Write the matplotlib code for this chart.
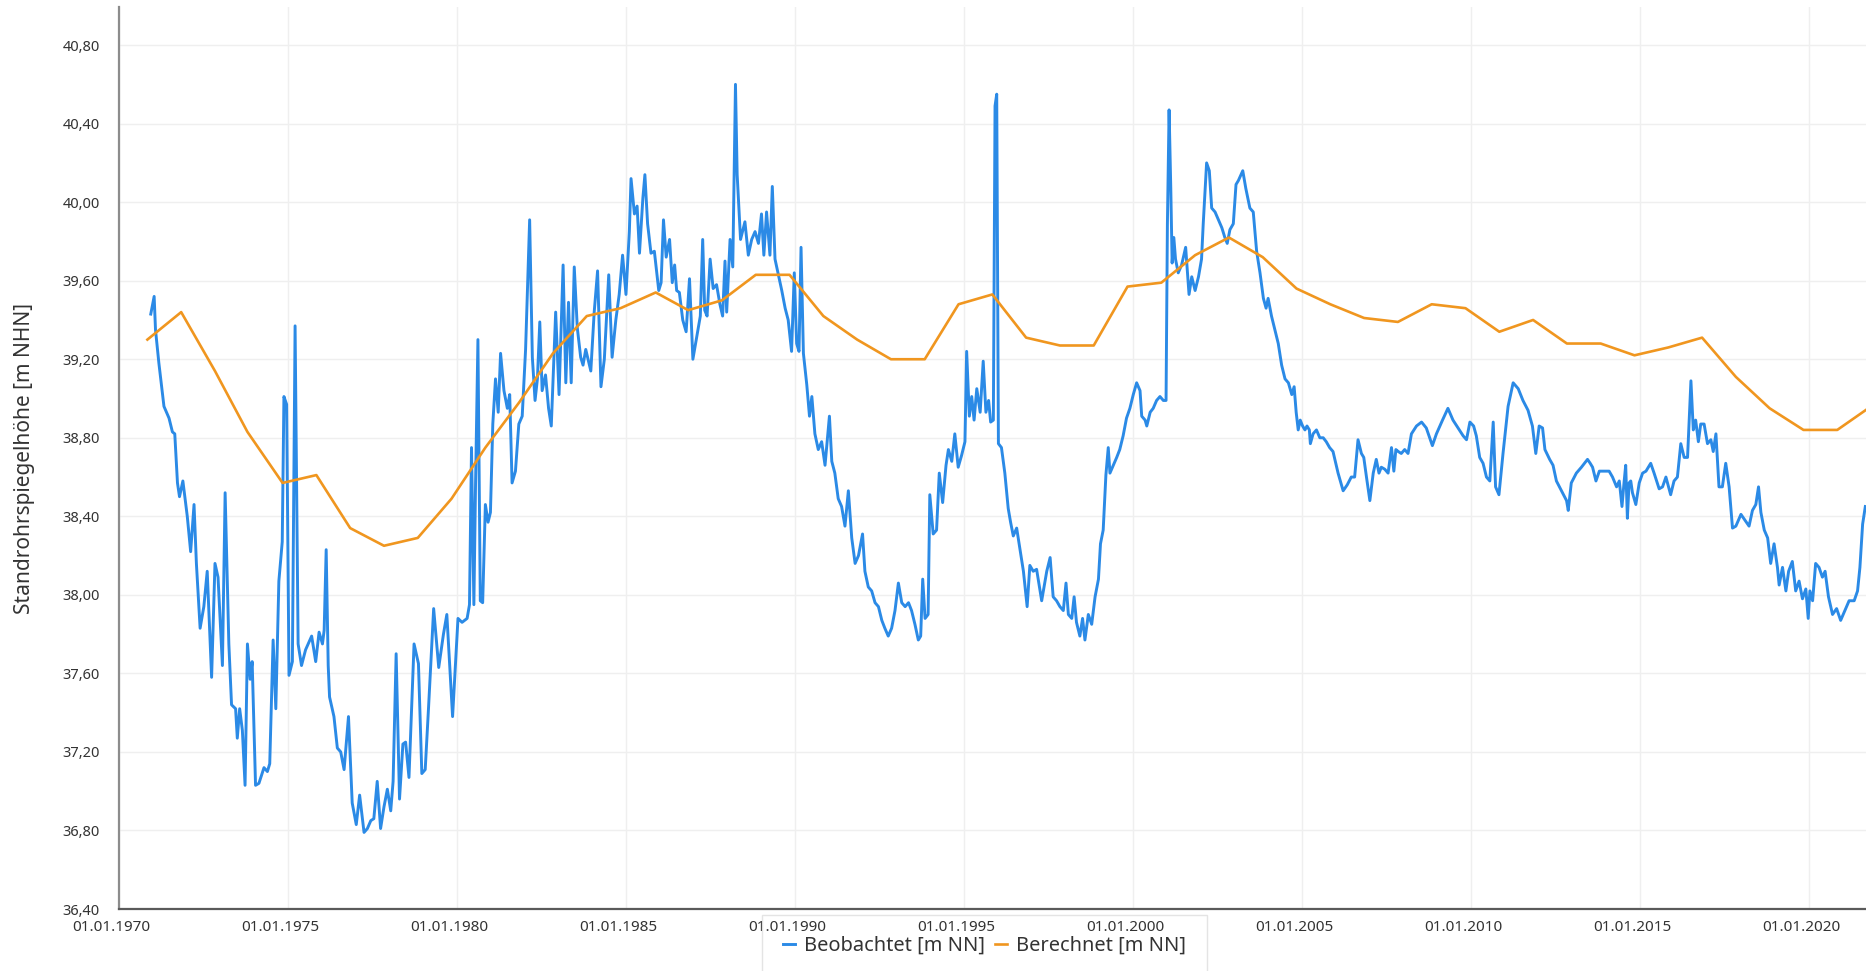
import matplotlib
matplotlib.use("Agg")
import matplotlib.pyplot as plt
from matplotlib.transforms import ScaledTranslation

plt.rcParams['font.family'] = ['Noto Sans', 'DejaVu Sans']

# ---------------- data ----------------
obs_years = [
    1970.94, 1971.04, 1971.08, 1971.18, 1971.33, 1971.48, 1971.58, 1971.65, 1971.73, 1971.79,
    1971.89, 1972.02, 1972.12, 1972.22, 1972.29, 1972.40, 1972.51, 1972.61, 1972.74, 1972.84,
    1972.93, 1973.06, 1973.14, 1973.25, 1973.33, 1973.45, 1973.50, 1973.57, 1973.65, 1973.73,
    1973.80, 1973.88, 1973.94, 1974.04, 1974.14, 1974.29, 1974.39, 1974.46, 1974.56, 1974.64,
    1974.73, 1974.83, 1974.88, 1974.96, 1975.03, 1975.13, 1975.21, 1975.30, 1975.40, 1975.52,
    1975.70, 1975.82, 1975.92, 1976.02, 1976.07, 1976.13, 1976.19, 1976.23, 1976.36, 1976.46,
    1976.56, 1976.66, 1976.79, 1976.90, 1977.02, 1977.12, 1977.25, 1977.35, 1977.45, 1977.54,
    1977.64, 1977.74, 1977.84, 1977.94, 1978.04, 1978.11, 1978.20, 1978.30, 1978.40, 1978.48,
    1978.58, 1978.73, 1978.86, 1978.96, 1979.06, 1979.16, 1979.31, 1979.46, 1979.60, 1979.70,
    1979.87, 1980.03, 1980.15, 1980.30, 1980.37, 1980.43, 1980.50, 1980.55, 1980.62, 1980.69,
    1980.76, 1980.84, 1980.92, 1980.99, 1981.06, 1981.14, 1981.22, 1981.29, 1981.39, 1981.49,
    1981.56, 1981.63, 1981.73, 1981.83, 1981.93, 1982.03, 1982.15, 1982.23, 1982.31, 1982.38,
    1982.45, 1982.52, 1982.62, 1982.71, 1982.79, 1982.87, 1982.92, 1983.02, 1983.14, 1983.22,
    1983.30, 1983.38, 1983.47, 1983.56, 1983.66, 1983.73, 1983.81, 1983.96, 1984.06, 1984.16,
    1984.26, 1984.36, 1984.49, 1984.59, 1984.70, 1984.80, 1984.90, 1985.00, 1985.10, 1985.15,
    1985.25, 1985.33, 1985.40, 1985.50, 1985.56, 1985.64, 1985.74, 1985.84, 1985.97, 1986.04,
    1986.11, 1986.19, 1986.29, 1986.37, 1986.44, 1986.50, 1986.58, 1986.68, 1986.78, 1986.88,
    1986.98, 1987.08, 1987.20, 1987.27, 1987.33, 1987.40, 1987.49, 1987.58, 1987.68, 1987.78,
    1987.86, 1987.93, 1987.98, 1988.08, 1988.16, 1988.24, 1988.29, 1988.39, 1988.52, 1988.62,
    1988.72, 1988.82, 1988.92, 1989.01, 1989.08, 1989.16, 1989.26, 1989.33, 1989.41, 1989.51,
    1989.61, 1989.71, 1989.80, 1989.90, 1989.98, 1990.05, 1990.12, 1990.18, 1990.25, 1990.35,
    1990.43, 1990.50, 1990.59, 1990.69, 1990.79, 1990.89, 1991.02, 1991.09, 1991.18, 1991.28,
    1991.38, 1991.48, 1991.58, 1991.68, 1991.78, 1991.88, 1992.00, 1992.07, 1992.17, 1992.27,
    1992.37, 1992.47, 1992.57, 1992.66, 1992.76, 1992.86, 1992.96, 1993.06, 1993.16, 1993.26,
    1993.36, 1993.45, 1993.55, 1993.65, 1993.72, 1993.78, 1993.85, 1993.94, 1993.99, 1994.09,
    1994.19, 1994.27, 1994.37, 1994.47, 1994.54, 1994.64, 1994.73, 1994.83, 1994.93, 1995.03,
    1995.08, 1995.16, 1995.23, 1995.30, 1995.38, 1995.48, 1995.57, 1995.65, 1995.73, 1995.79,
    1995.87, 1995.92, 1995.97, 1996.02, 1996.11, 1996.21, 1996.31, 1996.38, 1996.46, 1996.56,
    1996.66, 1996.76, 1996.87, 1996.95, 1997.05, 1997.15, 1997.30, 1997.45, 1997.55, 1997.64,
    1997.74, 1997.84, 1997.94, 1998.02, 1998.09, 1998.19, 1998.26, 1998.33, 1998.43, 1998.51,
    1998.58, 1998.68, 1998.78, 1998.88, 1998.98, 1999.04, 1999.12, 1999.20, 1999.27, 1999.32,
    1999.42, 1999.52, 1999.61, 1999.71, 1999.81, 1999.91, 2000.01, 2000.11, 2000.21, 2000.26,
    2000.36, 2000.41, 2000.51, 2000.60, 2000.70, 2000.80, 2000.90, 2000.98, 2001.02, 2001.07,
    2001.12, 2001.16, 2001.21, 2001.26, 2001.34, 2001.44, 2001.56, 2001.66, 2001.74, 2001.84,
    2001.94, 2002.03, 2002.08, 2002.18, 2002.26, 2002.33, 2002.43, 2002.53, 2002.63, 2002.72,
    2002.79, 2002.87, 2002.97, 2003.05, 2003.12, 2003.25, 2003.34, 2003.46, 2003.56, 2003.66,
    2003.76, 2003.86, 2003.94, 2004.00, 2004.10, 2004.20, 2004.30, 2004.40, 2004.50, 2004.60,
    2004.70, 2004.77, 2004.83, 2004.89, 2004.95, 2005.02, 2005.09, 2005.15, 2005.22, 2005.25,
    2005.33, 2005.43, 2005.53, 2005.63, 2005.72, 2005.82, 2005.92, 2006.07, 2006.22, 2006.34,
    2006.46, 2006.56, 2006.66, 2006.76, 2006.83, 2006.91, 2007.01, 2007.11, 2007.20, 2007.28,
    2007.35, 2007.45, 2007.55, 2007.65, 2007.72, 2007.78, 2007.85, 2007.94, 2008.04, 2008.14,
    2008.24, 2008.39, 2008.54, 2008.68, 2008.86, 2008.98, 2009.16, 2009.32, 2009.47, 2009.62,
    2009.77, 2009.87, 2009.97, 2010.08, 2010.16, 2010.26, 2010.36, 2010.46, 2010.56, 2010.66,
    2010.73, 2010.83, 2010.95, 2011.10, 2011.25, 2011.40, 2011.54, 2011.69, 2011.82, 2011.92,
    2012.02, 2012.12, 2012.19, 2012.33, 2012.43, 2012.53, 2012.68, 2012.83, 2012.88, 2012.97,
    2013.12, 2013.27, 2013.45, 2013.53, 2013.60, 2013.70, 2013.80, 2013.94, 2014.09, 2014.19,
    2014.31, 2014.39, 2014.47, 2014.53, 2014.58, 2014.63, 2014.68, 2014.73, 2014.78, 2014.88,
    2014.98, 2015.08, 2015.18, 2015.32, 2015.42, 2015.57, 2015.67, 2015.77, 2015.91, 2016.01,
    2016.11, 2016.21, 2016.31, 2016.41, 2016.51, 2016.58, 2016.65, 2016.73, 2016.80, 2016.90,
    2017.00, 2017.10, 2017.17, 2017.25, 2017.34, 2017.44, 2017.54, 2017.64, 2017.74, 2017.84,
    2017.99, 2018.11, 2018.23, 2018.33, 2018.43, 2018.51, 2018.58, 2018.68, 2018.78, 2018.87,
    2018.97, 2019.07, 2019.12, 2019.22, 2019.32, 2019.40, 2019.51, 2019.61, 2019.71, 2019.81,
    2019.91, 2019.98, 2020.03, 2020.11, 2020.20, 2020.30, 2020.40, 2020.48, 2020.58, 2020.70,
    2020.82, 2020.94, 2021.04, 2021.19, 2021.34, 2021.44, 2021.51, 2021.59, 2021.67,
]
obs_values = [
    39.43, 39.52, 39.35, 39.18, 38.96, 38.90, 38.83, 38.82, 38.57, 38.50,
    38.58, 38.40, 38.22, 38.46, 38.16, 37.83, 37.94, 38.12, 37.58, 38.16,
    38.09, 37.64, 38.52, 37.75, 37.44, 37.42, 37.27, 37.42, 37.31, 37.03,
    37.75, 37.57, 37.66, 37.03, 37.04, 37.12, 37.10, 37.14, 37.77, 37.42,
    38.07, 38.27, 39.01, 38.97, 37.59, 37.66, 39.37, 37.75, 37.64, 37.72,
    37.79, 37.66, 37.81, 37.75, 37.82, 38.23, 37.64, 37.48, 37.38, 37.22,
    37.20, 37.11, 37.38, 36.94, 36.83, 36.98, 36.79, 36.81, 36.85, 36.86,
    37.05, 36.81, 36.92, 37.01, 36.90, 37.05, 37.70, 36.96, 37.24, 37.25,
    37.07, 37.75, 37.65, 37.09, 37.11, 37.43, 37.93, 37.63, 37.80, 37.90,
    37.38, 37.88, 37.86, 37.88, 37.95, 38.75, 37.95, 38.57, 39.30, 37.97,
    37.96, 38.46, 38.37, 38.42, 38.87, 39.10, 38.93, 39.23, 39.04, 38.95,
    39.02, 38.57, 38.63, 38.87, 38.91, 39.25, 39.91, 39.21, 38.99, 39.10,
    39.39, 39.04, 39.12, 38.95, 38.86, 39.21, 39.44, 39.02, 39.68, 39.08,
    39.49, 39.08, 39.67, 39.36, 39.21, 39.17, 39.25, 39.14, 39.44, 39.65,
    39.06, 39.20, 39.63, 39.21, 39.40, 39.53, 39.73, 39.53, 39.85, 40.12,
    39.94, 39.98, 39.74, 40.02, 40.14, 39.89, 39.74, 39.75, 39.55, 39.59,
    39.91, 39.72, 39.81, 39.59, 39.68, 39.55, 39.54, 39.40, 39.34, 39.61,
    39.20, 39.30, 39.42, 39.81, 39.45, 39.42, 39.71, 39.56, 39.58, 39.48,
    39.42, 39.70, 39.44, 39.81, 39.67, 40.60, 40.14, 39.81, 39.90, 39.73,
    39.81, 39.85, 39.79, 39.94, 39.73, 39.95, 39.73, 40.08, 39.71, 39.63,
    39.55, 39.46, 39.40, 39.24, 39.64, 39.28, 39.24, 39.77, 39.23, 39.07,
    38.91, 39.01, 38.82, 38.74, 38.78, 38.66, 38.91, 38.68, 38.62, 38.49,
    38.45, 38.35, 38.53, 38.29, 38.16, 38.20, 38.31, 38.12, 38.04, 38.02,
    37.96, 37.94, 37.87, 37.83, 37.79, 37.83, 37.92, 38.06, 37.96, 37.94,
    37.96, 37.92, 37.85, 37.77, 37.79, 38.08, 37.88, 37.90, 38.51, 38.31,
    38.33, 38.62, 38.47, 38.66, 38.74, 38.68, 38.82, 38.65, 38.71, 38.78,
    39.24, 38.91, 39.01, 38.89, 39.05, 38.93, 39.19, 38.93, 38.99, 38.88,
    38.89, 40.49, 40.55, 38.77, 38.75, 38.62, 38.44, 38.37, 38.30, 38.34,
    38.23, 38.12, 37.94, 38.15, 38.12, 38.13, 37.97, 38.12, 38.19, 37.99,
    37.97, 37.94, 37.92, 38.06, 37.90, 37.88, 37.99, 37.86, 37.79, 37.88,
    37.77, 37.90, 37.85, 37.99, 38.08, 38.26, 38.33, 38.61, 38.75, 38.62,
    38.66, 38.70, 38.74, 38.81, 38.90, 38.95, 39.02, 39.08, 39.04, 38.91,
    38.89, 38.86, 38.93, 38.95, 38.99, 39.01, 38.99, 38.99, 39.89, 40.47,
    40.07, 39.69, 39.82, 39.71, 39.64, 39.68, 39.77, 39.53, 39.62, 39.55,
    39.62, 39.71, 39.89, 40.20, 40.16, 39.97, 39.95, 39.91, 39.87, 39.82,
    39.79, 39.86, 39.89, 40.09, 40.11, 40.16, 40.07, 39.97, 39.95, 39.75,
    39.64, 39.51, 39.46, 39.51, 39.42, 39.35, 39.28, 39.17, 39.10, 39.08,
    39.02, 39.06, 38.93, 38.84, 38.89, 38.86, 38.84, 38.86, 38.84, 38.77,
    38.82, 38.84, 38.80, 38.80, 38.78, 38.75, 38.73, 38.62, 38.53, 38.56,
    38.60, 38.60, 38.79, 38.72, 38.70, 38.60, 38.48, 38.62, 38.69, 38.62,
    38.65, 38.64, 38.62, 38.75, 38.63, 38.74, 38.73, 38.72, 38.74, 38.72,
    38.82, 38.86, 38.88, 38.85, 38.76, 38.82, 38.89, 38.95, 38.89, 38.85,
    38.81, 38.79, 38.88, 38.86, 38.81, 38.70, 38.67, 38.60, 38.58, 38.88,
    38.55, 38.51, 38.72, 38.96, 39.08, 39.05, 38.99, 38.94, 38.86, 38.72,
    38.86, 38.85, 38.74, 38.69, 38.66, 38.58, 38.53, 38.48, 38.43, 38.57,
    38.62, 38.65, 38.69, 38.67, 38.65, 38.58, 38.63, 38.63, 38.63, 38.60,
    38.55, 38.58, 38.45, 38.57, 38.66, 38.39, 38.57, 38.58, 38.52, 38.46,
    38.57, 38.62, 38.63, 38.67, 38.62, 38.54, 38.55, 38.60, 38.51, 38.58,
    38.60, 38.77, 38.70, 38.70, 39.09, 38.84, 38.89, 38.78, 38.87, 38.87,
    38.77, 38.79, 38.73, 38.82, 38.55, 38.55, 38.67, 38.55, 38.34, 38.35,
    38.41, 38.38, 38.35, 38.43, 38.46, 38.55, 38.42, 38.33, 38.29, 38.16,
    38.26, 38.14, 38.05, 38.14, 38.02, 38.12, 38.17, 38.02, 38.07, 37.98,
    38.03, 37.88, 38.02, 37.97, 38.16, 38.14, 38.09, 38.12, 37.99, 37.90,
    37.93, 37.87, 37.91, 37.97, 37.97, 38.02, 38.14, 38.36, 38.45,
]

calc_years = [
    1970.84, 1971.84, 1972.84, 1973.80, 1974.84, 1975.84, 1976.84, 1977.84, 1978.84, 1979.84,
    1980.84, 1981.84, 1982.84, 1983.84, 1984.84, 1985.88, 1986.84, 1987.84, 1988.84, 1989.84,
    1990.84, 1991.84, 1992.84, 1993.84, 1994.84, 1995.84, 1996.84, 1997.84, 1998.84, 1999.84,
    2000.84, 2001.84, 2002.84, 2003.84, 2004.84, 2005.84, 2006.84, 2007.84, 2008.84, 2009.84,
    2010.84, 2011.84, 2012.84, 2013.84, 2014.84, 2015.84, 2016.84, 2017.84, 2018.84, 2019.84,
    2020.84, 2021.84,
]
calc_values = [
    39.30, 39.44, 39.14, 38.83, 38.57, 38.61, 38.34, 38.25, 38.29, 38.49,
    38.75, 38.98, 39.23, 39.42, 39.46, 39.54, 39.45, 39.50, 39.63, 39.63,
    39.42, 39.30, 39.20, 39.20, 39.48, 39.53, 39.31, 39.27, 39.27, 39.57,
    39.59, 39.73, 39.82, 39.72, 39.56, 39.48, 39.41, 39.39, 39.48, 39.46,
    39.34, 39.40, 39.28, 39.28, 39.22, 39.26, 39.31, 39.11, 38.95, 38.84,
    38.84, 38.96,
]

xtick_years = [1970, 1975, 1980, 1985, 1990, 1995, 2000, 2005, 2010, 2015, 2020]
xtick_labels = ["01.01.%d" % y for y in xtick_years]
ytick_values = [36.4, 36.8, 37.2, 37.6, 38.0, 38.4, 38.8, 39.2, 39.6, 40.0, 40.4, 40.8]
ytick_labels = [("%.2f" % v).replace(".", ",") for v in ytick_values]

series_names = ["Beobachtet [m NN]", "Berechnet [m NN]"]
y_title = "Standrohrspiegelhöhe [m NHN]"

# ---------------- figure ----------------
W, H, DPI = 1866, 971, 100
fig = plt.figure(figsize=(W / DPI, H / DPI), dpi=DPI)
ax = fig.add_axes([119 / W, 1 - 909 / H, (W - 119) / W, (909 - 7) / H])

blue = "#2b8ae6"
orange = "#f0961f"

ax.plot(obs_years, obs_values, color=blue, lw=2.1, solid_joinstyle="round",
        label=series_names[0], zorder=3)
ax.plot(calc_years, calc_values, color=orange, lw=1.9, solid_joinstyle="round",
        label=series_names[1], zorder=4)

ax.set_xlim(1970, 2021.69)
ax.set_ylim(36.4, 40.994)

ax.set_xticks(xtick_years)
ax.set_xticklabels(xtick_labels)
ax.set_yticks(ytick_values)
ax.set_yticklabels(ytick_labels)

ax.grid(True, color="#efefef", lw=1.0, zorder=0)
ax.set_axisbelow(True)

for s in ["top", "right"]:
    ax.spines[s].set_visible(False)
ax.spines["left"].set_color("#8c8c8c")
ax.spines["left"].set_linewidth(1.6)
ax.spines["bottom"].set_color("#5a5a5a")
ax.spines["bottom"].set_linewidth(1.6)

ax.tick_params(axis="both", length=0, labelcolor="#333333")
ax.tick_params(axis="y", pad=14, labelsize=10.5)
ax.tick_params(axis="x", pad=8, labelsize=11)

offset = ScaledTranslation(-8 / DPI, 0, fig.dpi_scale_trans)
for lab in ax.get_xticklabels():
    lab.set_transform(lab.get_transform() + offset)

fig.text(25 / W, 1 - 458 / H, y_title, rotation=90, ha="center", va="center",
         fontsize=15, color="#333333")

leg = fig.legend(loc="upper left", bbox_to_anchor=(762 / W, 1 - 915 / H),
                 ncol=2, frameon=True, fancybox=False, fontsize=14.4,
                 handlelength=0.6, handletextpad=0.45, columnspacing=0.5,
                 borderpad=1.05, borderaxespad=0)
leg.get_frame().set_edgecolor("#dedede")
leg.get_frame().set_facecolor("none")
leg.get_frame().set_linewidth(1.0)
for t in leg.get_texts():
    t.set_color("#333333")

fig.savefig("out.png", dpi=DPI)
